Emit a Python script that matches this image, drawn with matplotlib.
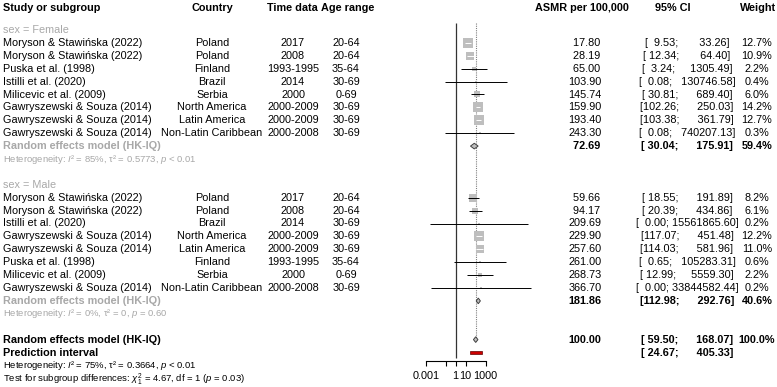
import numpy as np
import matplotlib
matplotlib.use('Agg')
import matplotlib.pyplot as plt

plt.rcParams['font.family'] = ['Liberation Sans', 'DejaVu Sans']
plt.rcParams['mathtext.fontset'] = 'custom'
plt.rcParams['mathtext.rm'] = 'Liberation Sans'
plt.rcParams['mathtext.it'] = 'Liberation Sans:italic'
plt.rcParams['mathtext.bf'] = 'Liberation Sans:bold'

# ---- data: sex = Female
f_study = ['Moryson & Stawińska (2022)', 'Moryson & Stawińska (2022)', 'Puska et al. (1998)',
           'Istilli et al. (2020)', 'Milicevic et al. (2009)', 'Gawryszewski & Souza (2014)',
           'Gawryszewski & Souza (2014)', 'Gawryszewski & Souza (2014)']
f_country = ['Poland', 'Poland', 'Finland', 'Brazil', 'Serbia', 'North America',
             'Latin America', 'Non-Latin Caribbean']
f_time = ['2017', '2008', '1993-1995', '2014', '2000', '2000-2009', '2000-2009', '2000-2008']
f_age = ['20-64', '20-64', '35-64', '30-69', '0-69', '30-69', '30-69', '30-69']
f_est = [17.80, 28.19, 65.00, 103.90, 145.74, 159.90, 193.40, 243.30]
f_lo = [9.53, 12.34, 3.24, 0.08, 30.81, 102.26, 103.38, 0.08]
f_hi = [33.26, 64.40, 1305.49, 130746.58, 689.40, 250.03, 361.79, 740207.13]
f_w = [12.7, 10.9, 2.2, 0.4, 6.0, 14.2, 12.7, 0.3]
f_re = [72.69, 30.04, 175.91, 59.4]

# ---- data: sex = Male
m_study = ['Moryson & Stawińska (2022)', 'Moryson & Stawińska (2022)', 'Istilli et al. (2020)',
           'Gawryszewski & Souza (2014)', 'Gawryszewski & Souza (2014)', 'Puska et al. (1998)',
           'Milicevic et al. (2009)', 'Gawryszewski & Souza (2014)']
m_country = ['Poland', 'Poland', 'Brazil', 'North America', 'Latin America', 'Finland',
             'Serbia', 'Non-Latin Caribbean']
m_time = ['2017', '2008', '2014', '2000-2009', '2000-2009', '1993-1995', '2000', '2000-2008']
m_age = ['20-64', '20-64', '30-69', '30-69', '30-69', '35-64', '0-69', '30-69']
m_est = [59.66, 94.17, 209.69, 229.90, 257.60, 261.00, 268.73, 366.70]
m_lo = [18.55, 20.39, 0.0027, 117.07, 114.03, 0.65, 12.99, 0.0035]
m_hi = [191.89, 434.86, 15561865.60, 451.48, 581.96, 105283.31, 5559.30, 33844582.44]
m_w = [8.2, 6.1, 0.2, 12.2, 11.0, 0.6, 2.2, 0.2]
m_re = [181.86, 112.98, 292.76, 40.6]

# ---- overall
all_re = [100.00, 59.50, 168.07, 100.0]
pred = [24.67, 405.33]

het_f = r'Heterogeneity: $I$² = 85%, τ² = 0.5773, $p$ < 0.01'
het_m = r'Heterogeneity: $I$² = 0%, τ² = 0, $p$ = 0.60'
het_all = r'Heterogeneity: $I$² = 75%, τ² = 0.3664, $p$ < 0.01'
test_sub = r'Test for subgroup differences: $\chi^2_1$ = 4.67, df = 1 ($p$ = 0.03)'

ticks = [0.001, 0.1, 1, 10, 1000]
tick_labels = ['0.001', '', '1', '10', '1000']

# ---- layout (pixels / rows)
W, H = 777, 387
GREY = '#a8a8a8'
FS = 7.8
FS_SMALL = 6.8
y0, y1 = 2 - 30 / 12.9, 2 + 357 / 12.9

fig = plt.figure(figsize=(W / 100, H / 100), dpi=100)
ax_t = fig.add_axes([0, 0, 1, 1])
ax_t.set_xlim(0, W)
ax_t.set_ylim(y1, y0)
ax_t.axis('off')

x_lo, x_hi, x_one = 420, 536, 455.7
ax_f = fig.add_axes([x_lo / W, 0, (x_hi - x_lo) / W, 1])
ax_f.patch.set_alpha(0)
ax_f.set_xscale('log')
ax_f.set_xlim(10 ** ((x_lo - x_one) / 10), 10 ** ((x_hi - x_one) / 10))
ax_f.set_ylim(y1, y0)

f_rows = list(range(3, 11))
m_rows = list(range(15, 23))

# column positions
col_study, col_country, col_time, col_age = 3, 212, 293, 346
col_est, col_ci, col_w = 585, 687, 757


def fmt_pad(vals, fmt):
    s = [fmt.format(v) for v in vals]
    n = max(len(t) for t in s)
    return [t.rjust(n) for t in s]


est_all = f_est + [f_re[0]] + m_est + [m_re[0]] + [all_re[0]]
lo_all = f_lo + [f_re[1]] + m_lo + [m_re[1]] + [all_re[1], pred[0]]
hi_all = f_hi + [f_re[2]] + m_hi + [m_re[2]] + [all_re[2], pred[1]]
est_s = fmt_pad(est_all, '{:.2f}')
lo_s = fmt_pad(lo_all, '{:.2f}')
hi_s = fmt_pad(hi_all, '{:.2f}')
ci_s = ['[' + a + '; ' + b + ']' for a, b in zip(lo_s, hi_s)]
w_all = f_w + [f_re[3]] + m_w + [m_re[3]] + [all_re[3]]
rows_num = f_rows + [11] + m_rows + [23] + [26]
bold_rows = [11, 23, 26]

# header
hdr = dict(fontsize=FS, fontweight='bold', va='center')
ax_t.text(col_study, 0.29, 'Study or subgroup', ha='left', **hdr)
ax_t.text(col_country, 0.29, 'Country', ha='center', **hdr)
ax_t.text(col_time - 1, 0.29, 'Time data', ha='center', **hdr)
ax_t.text(col_age + 2, 0.29, 'Age range', ha='center', **hdr)
ax_t.text(582, 0.29, 'ASMR per 100,000', ha='center', **hdr)
ax_t.text(673, 0.29, '95% CI', ha='center', **hdr)
ax_t.text(776, 0.29, 'Weight', ha='right', **hdr)

# study rows text
for rows, st, co, ti, ag in [(f_rows, f_study, f_country, f_time, f_age),
                             (m_rows, m_study, m_country, m_time, m_age)]:
    for r, a, b, c, d in zip(rows, st, co, ti, ag):
        ax_t.text(col_study, r, a, ha='left', va='center', fontsize=FS)
        ax_t.text(col_country, r, b, ha='center', va='center', fontsize=FS)
        ax_t.text(col_time, r, c, ha='center', va='center', fontsize=FS)
        ax_t.text(col_age, r, d, ha='center', va='center', fontsize=FS)

for i, r in enumerate(rows_num):
    fw = 'bold' if r in bold_rows else 'normal'
    ax_t.text(col_est, r, est_s[i], ha='center', va='center', fontsize=FS, fontweight=fw)
    ax_t.text(col_ci, r, ci_s[i], ha='center', va='center', fontsize=FS, fontweight=fw)
    ax_t.text(col_w, r, '{:.1f}%'.format(w_all[i]), ha='center', va='center',
              fontsize=FS, fontweight=fw)
ax_t.text(col_ci, 27, ci_s[-1], ha='center', va='center', fontsize=FS, fontweight='bold')

# subgroup labels
ax_t.text(col_study, 2, 'sex = Female', ha='left', va='center', fontsize=FS, color=GREY)
ax_t.text(col_study, 11, 'Random effects model (HK-IQ)', ha='left', va='center',
          fontsize=FS, color=GREY, fontweight='bold')
ax_t.text(col_study, 12, het_f, ha='left', va='center', fontsize=FS_SMALL, color=GREY)
ax_t.text(col_study, 14, 'sex = Male', ha='left', va='center', fontsize=FS, color=GREY)
ax_t.text(col_study, 23, 'Random effects model (HK-IQ)', ha='left', va='center',
          fontsize=FS, color=GREY, fontweight='bold')
ax_t.text(col_study, 24, het_m, ha='left', va='center', fontsize=FS_SMALL, color=GREY)
ax_t.text(col_study, 26, 'Random effects model (HK-IQ)', ha='left', va='center',
          fontsize=FS, fontweight='bold')
ax_t.text(col_study, 27, 'Prediction interval', ha='left', va='center',
          fontsize=FS, fontweight='bold')
ax_t.text(col_study, 28, het_all, ha='left', va='center', fontsize=FS_SMALL)
ax_t.text(col_study, 29.05, test_sub, ha='left', va='center', fontsize=FS_SMALL)

# reference lines
ax_f.vlines(1, 1.46, 27.43, color='#333333', lw=0.9, zorder=1)
ax_f.vlines(all_re[0], 1.46, 26, color='#808080', lw=0.8, linestyles=(0, (1, 1)), zorder=1)

# study squares and CI lines
wmax = max(f_w + m_w)
for rows, est, lo, hi, w in [(f_rows, f_est, f_lo, f_hi, f_w),
                             (m_rows, m_est, m_lo, m_hi, m_w)]:
    for r, e, l, h, wt in zip(rows, est, lo, hi, w):
        side = 10 * np.sqrt(wt / wmax)
        half = side / 2 / 10
        inside = np.log10(h / e) < half and np.log10(e / l) < half
        ax_f.scatter([e], [r], marker='s', s=(side * 0.72) ** 2, color='#bebebe',
                     lw=0, zorder=2)
        ax_f.hlines(r, l, h, color='white' if inside else 'black', lw=0.7, zorder=3)

# diamonds
for r, (e, l, h, _) in [(11, f_re), (23, m_re), (26, all_re)]:
    hh = 0.22
    ax_f.fill([l, e, h, e], [r, r - hh, r, r + hh], fc='#bebebe', ec='#404040',
              lw=0.7, zorder=3)

# prediction interval
ax_f.barh(27, pred[1] - pred[0], left=pred[0], height=0.26, color='#cc0000',
          edgecolor='#600000', lw=0.5, zorder=3)

# axis
for s in ['top', 'left', 'right']:
    ax_f.spines[s].set_visible(False)
ax_f.spines['bottom'].set_position(('data', 27.66))
ax_f.spines['bottom'].set_bounds(ticks[0], ticks[-1])
ax_f.spines['bottom'].set_linewidth(0.8)
ax_f.set_xticks(ticks)
ax_f.set_xticklabels(tick_labels)
ax_f.minorticks_off()
ax_f.tick_params(axis='x', direction='out', length=3.6, width=0.8, labelsize=FS, pad=3.5)
ax_f.set_yticks([])

fig.savefig('out.png', dpi=100)
